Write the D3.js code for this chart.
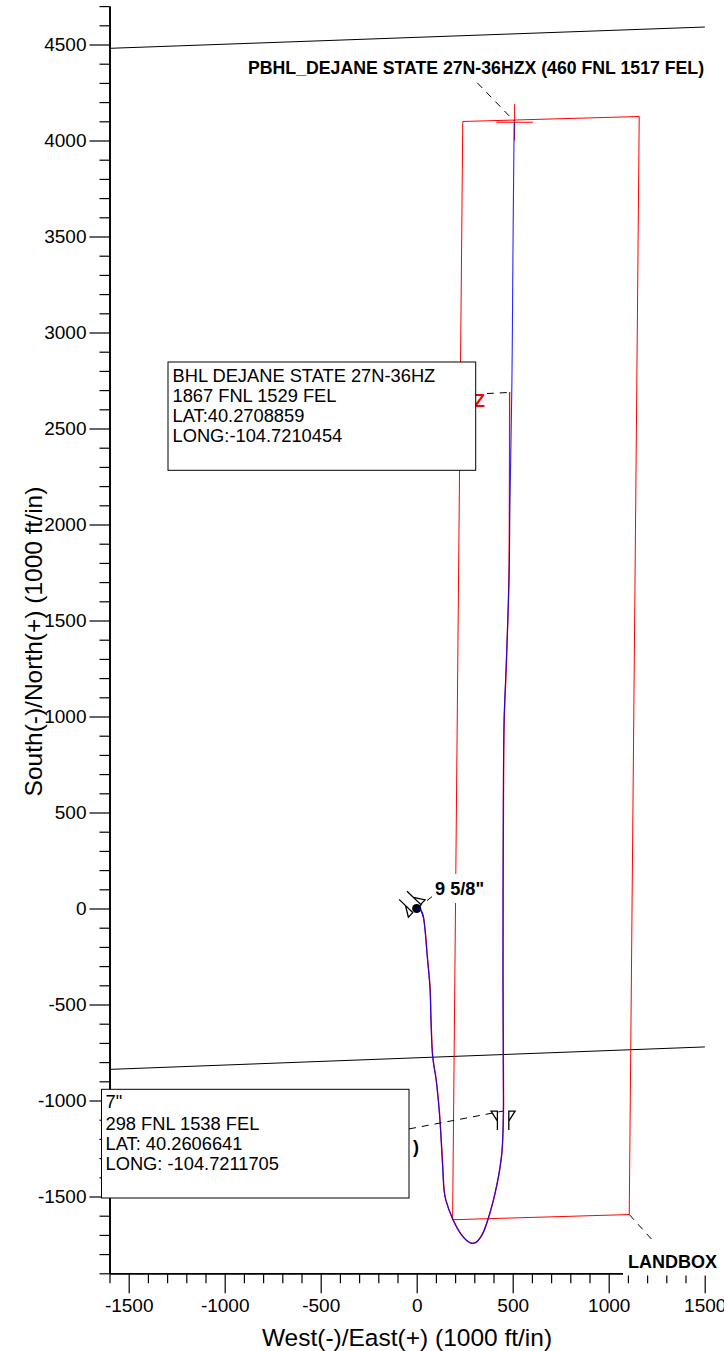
<!doctype html>
<html>
<head>
  <meta charset="utf-8">
  <script src="https://cdnjs.cloudflare.com/ajax/libs/d3/7.8.5/d3.min.js" type="text/JavaScript"></script>
  <style>
    html, body { margin:0; padding:0; overflow:hidden; background:#fff; }
    text { font-family:"Liberation Sans", Arial, sans-serif; fill:#000; }
    .domain, .tick line { stroke:#000; }
  </style>
</head>
<body>
<svg id="chart" width="724" height="1351" style="display:block;"></svg>
<script type="text/javascript">
// values, ft east / ft north
var majorTicksX = [-1500,-1000,-500,0,500,1000,1500];
var minorTicksX = [-1600,-1400,-1300,-1200,-1100,-900,-800,-700,-600,-400,-300,-200,-100,100,200,300,400,600,700,800,900,1100,1200,1300,1400];
var majorTicksY = [-1500,-1000,-500,0,500,1000,1500,2000,2500,3000,3500,4000,4500];
var minorTicksY = [-1900,-1800,-1700,-1600,-1400,-1300,-1200,-1100,-900,-800,-700,-600,-400,-300,-200,-100,100,200,300,400,600,700,800,900,1100,1200,1300,1400,1600,1700,1800,1900,2100,2200,2300,2400,2600,2700,2800,2900,3100,3200,3300,3400,3600,3700,3800,3900,4100,4200,4300,4400,4600,4700];

var wellE = [0,17,33,43,54,69,74,83,101,118,127,135,142,151,187,234,278,304,339,373,417,443,451,451,449,451,455,465,481,486,496,501,507,508];
var wellN = [0,-3,-39,-112,-242,-414,-581,-773,-893,-1065,-1206,-1346,-1466,-1518,-1617,-1701,-1741,-1741,-1701,-1612,-1440,-1273,-1065,-893,-320,565,982,1242,1711,2128,2753,3378,4040,4097];

var planE = [0,18,34,44,55,70,75,84,102,119,128,136,143,152,188,235,279,305,340,374,418,444,452,452,450,452,456,466,480,483,484];
var planN = [0,-3,-39,-112,-242,-414,-581,-773,-893,-1065,-1206,-1346,-1466,-1518,-1617,-1701,-1741,-1741,-1701,-1612,-1440,-1273,-1065,-893,-320,565,982,1242,1711,2128,2690];

var leaseE = [240,1159,1107,187,240];
var leaseN = [4099,4125,-1594,-1621,4099];

var sectionE = [-1600,1501];
var sectionTopN = [4480,4591];
var sectionBottomN = [-838,-721];

var targetE = 510, targetN = 4095, targetArm = 95;

var casingE = [0,450];
var casingN = [0,-1055];
var casingAngle = [134,0];

var leaderE = [[316,507],[365,486],[0,122],[-40,450],[1107,1241]];
var leaderN = [[4300,4102],[2682,2688],[0,94],[-1148,-1055],[-1594,-1742]];

var bhlLines = ["BHL DEJANE STATE 27N-36HZ","1867 FNL 1529 FEL","LAT:40.2708859","LONG:-104.7210454"];
var shoeLines = ['7"',"298 FNL 1538 FEL","LAT: 40.2606641","LONG: -104.7211705"];

var xScale = d3.scaleLinear().domain([-1600,1600]).range([109.5,723.9]);
var yScale = d3.scaleLinear().domain([-1900,4700]).range([1273.3,6.1]);

var svg = d3.select("#chart");

// section lines
[sectionTopN, sectionBottomN].forEach(function(n){
  svg.append("line")
    .attr("x1", xScale(sectionE[0])).attr("y1", yScale(n[0]))
    .attr("x2", xScale(sectionE[1])).attr("y2", yScale(n[1]))
    .attr("stroke","#000").attr("stroke-width",1);
});

var line = d3.line().x(d => xScale(d[0])).y(d => yScale(d[1]));
var curve = d3.line().x(d => xScale(d[0])).y(d => yScale(d[1])).curve(d3.curveCatmullRom.alpha(0.5));

// lease box
svg.append("path")
  .attr("d", line(d3.zip(leaseE, leaseN)))
  .attr("fill","none").attr("stroke","#f00").attr("stroke-width",1);

// target cross
svg.append("path")
  .attr("d", line([[targetE-targetArm,targetN],[targetE+targetArm,targetN]]) + line([[targetE,targetN-targetArm],[targetE,targetN+targetArm]]))
  .attr("fill","none").attr("stroke","#f00").attr("stroke-width",1);

// plan under actual, they sit almost on top of each other
svg.append("path")
  .attr("d", curve(d3.zip(planE, planN)))
  .attr("fill","none").attr("stroke","#f00").attr("stroke-width",1.3);
svg.append("path")
  .attr("d", curve(d3.zip(wellE, wellN)))
  .attr("fill","none").attr("stroke","#00f").attr("stroke-width",1.1).attr("stroke-opacity",0.85);

// dashed leaders
leaderE.forEach(function(e,i){
  svg.append("line")
    .attr("x1", xScale(e[0])).attr("y1", yScale(leaderN[i][0]))
    .attr("x2", xScale(e[1])).attr("y2", yScale(leaderN[i][1]))
    .attr("stroke","#000").attr("stroke-width",1).attr("stroke-dasharray","7,6");
});

// casing shoe symbols
casingE.forEach(function(e,i){
  var g = svg.append("g")
    .attr("transform","translate("+xScale(e)+","+yScale(casingN[i])+") rotate("+casingAngle[i]+")");
  [-1,1].forEach(function(s){
    g.append("path")
      .attr("d","M"+(s*5.7)+",19 L"+(s*5.7)+",0 L"+(s*12)+",0 L"+(s*5.7)+",10")
      .attr("fill","#fff").attr("stroke","#000").attr("stroke-width",1.3);
  });
});

// surface location dot
svg.append("circle")
  .attr("cx", xScale(0)).attr("cy", yScale(0)).attr("r",4.6).attr("fill","#000");
svg.append("path")
  .attr("d", curve(d3.zip(wellE, wellN).slice(0,3)))
  .attr("fill","none").attr("stroke","#00f").attr("stroke-width",1.1);

// axes
var xMajor = d3.axisBottom(xScale).tickValues(majorTicksX).tickSize(20).tickSizeOuter(0).tickPadding(5).tickFormat(String);
var xMinor = d3.axisBottom(xScale).tickValues(minorTicksX).tickSize(10).tickSizeOuter(0).tickFormat("");
var yMajor = d3.axisLeft(yScale).tickValues(majorTicksY).tickSize(20).tickSizeOuter(0).tickPadding(3).tickFormat(String);
var yMinor = d3.axisLeft(yScale).tickValues(minorTicksY).tickSize(10).tickSizeOuter(0).tickFormat("");

[xMinor, xMajor].forEach(function(a){
  svg.append("g").attr("class","x axis").attr("transform","translate(0,1273.3)").call(a);
});
[yMinor, yMajor].forEach(function(a){
  svg.append("g").attr("class","y axis").attr("transform","translate(109.5,0)").call(a);
});
svg.selectAll(".axis text").style("font-size","19px").style("font-family",'"Liberation Sans", Arial, sans-serif').attr("fill","#000");
svg.selectAll(".axis .domain").attr("stroke-width",1.6);
svg.selectAll(".axis .tick line").attr("stroke-width",1.2);

svg.append("text").attr("x",407).attr("y",1346).attr("text-anchor","middle").style("font-size","24.5px")
  .text("West(-)/East(+) (1000 ft/in)");
svg.append("text").attr("transform","translate(42,641.5) rotate(-90)").attr("text-anchor","middle").style("font-size","24.5px")
  .text("South(-)/North(+) (1000 ft/in)");

// annotations, white behind each one like the original
function label(txt, x0, y0, x1, y1, tx, ty, size, color) {
  svg.append("rect").attr("x",x0).attr("y",y0).attr("width",x1-x0).attr("height",y1-y0).attr("fill","#fff");
  svg.append("text").attr("x",tx).attr("y",ty).style("font-size",size+"px").style("font-weight","bold")
    .style("fill",color||"#000").text(txt);
}
label('PBHL_DEJANE STATE 27N-36HZX (460 FNL 1517 FEL)',246,58,707,80,248,74,17.7);
label('9 5/8"',432,874,487,903,435,895,18.2);
label('LANDBOX',623,1246,724,1275.5,628,1268,18);
label('Z',476,392,487,410,474,407,18,"#f00");
label(')',410,1140,421,1156,413,1153,18);

function textBox(lines, x0, y0, x1, y1, tx, baselines) {
  svg.append("rect").attr("x",x0).attr("y",y0).attr("width",x1-x0).attr("height",y1-y0)
    .attr("fill","#fff").attr("stroke","#000").attr("stroke-width",1);
  lines.forEach(function(t,i){
    svg.append("text").attr("x",tx).attr("y",baselines[i]).style("font-size","18.3px").text(t);
  });
}
textBox(bhlLines,168,362,475.7,470.3,172.5,[381.7,402,421.5,442]);
textBox(shoeLines,101.5,1089.3,409,1198,105.5,[1107.7,1130,1149.7,1170]);
</script>
</body>
</html>
